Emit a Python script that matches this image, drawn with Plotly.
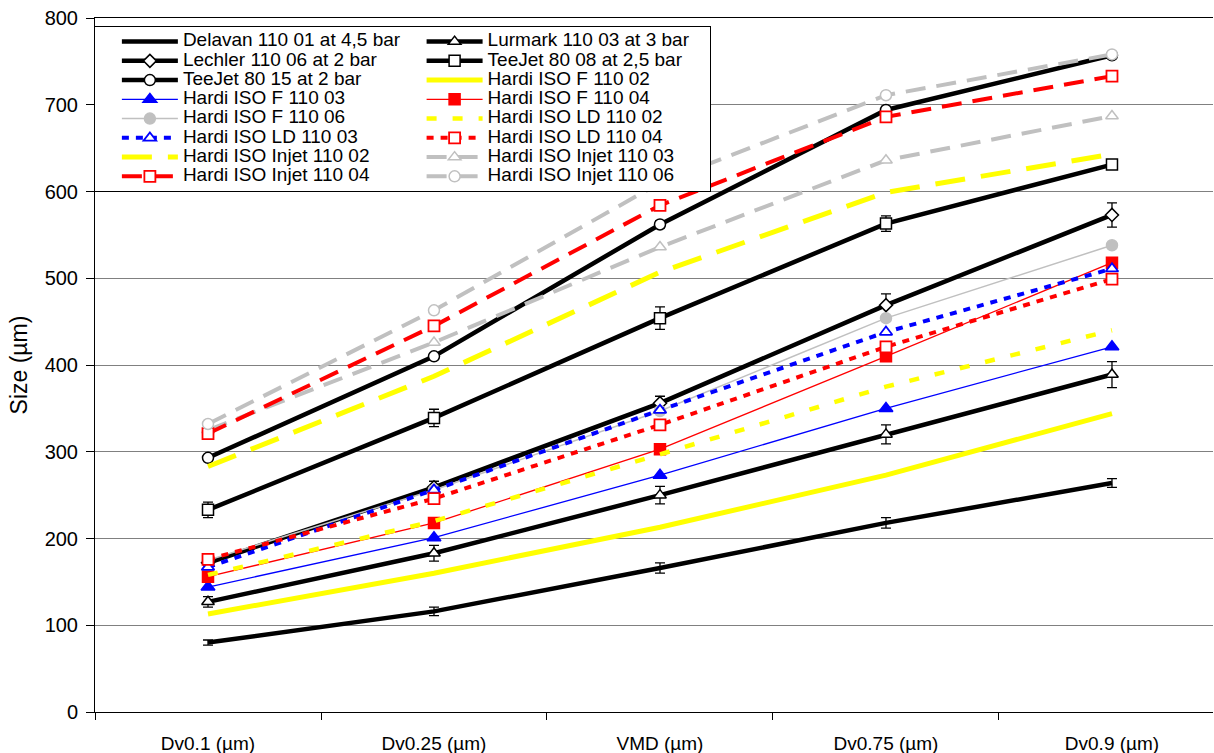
import plotly.graph_objects as go

categories = ['Dv0.1 (µm)', 'Dv0.25 (µm)', 'VMD (µm)', 'Dv0.75 (µm)', 'Dv0.9 (µm)']

delavan_11001 = [80, 116, 166, 218, 264]
delavan_11001_err = [3, 5, 6, 6, 5]
lurmark_11003 = [127, 183, 250, 320, 389]
lurmark_11003_err = [6, 9, 10, 11, 15]
lechler_11006 = [172, 259, 356, 469, 573]
lechler_11006_err = [5, 7, 8, 13, 14]
teejet_8008 = [233, 339, 454, 563, 631]
teejet_8008_err = [9, 10, 13, 9, 3]
teejet_8015 = [293, 410, 562, 694, 757]
teejet_8015_err = [3, 3, 4, 4, 3]

hardi_f_11002 = [113, 160, 213, 273, 344]
hardi_f_11003 = [144, 201, 273, 350, 421]
hardi_f_11004 = [156, 218, 303, 410, 518]
hardi_f_11006 = [175, 256, 347, 454, 538]
hardi_ld_11002 = [158, 220, 297, 375, 440]
hardi_ld_11003 = [167, 256, 348, 438, 511]
hardi_ld_11004 = [176, 246, 331, 421, 499]
hardi_injet_11002 = [283, 387, 507, 599, 643]
hardi_injet_11003 = [325, 426, 536, 636, 687]
hardi_injet_11004 = [321, 445, 584, 686, 733]
hardi_injet_11006 = [332, 463, 610, 711, 758]

FONT = "Arial, 'Liberation Sans', sans-serif"
GREY = '#C0C0C0'
YELLOW = '#FFFF00'


def lbl(t):
    return '<span style="font-size:19px">' + t + '</span>'


fig = go.Figure()


def add(name, y, color, width, dash='solid', symbol=None, size=10, fill=None,
        err=None, mline=1.5):
    mode = 'lines+markers' if symbol else 'lines'
    marker = None
    if symbol:
        marker = dict(symbol=symbol, size=size,
                      color=fill if fill else color,
                      line=dict(color=color, width=mline))
    kw = {}
    if err is not None:
        kw['error_y'] = dict(type='data', array=err, visible=True,
                             color='black', thickness=1.3, width=5)
    fig.add_trace(go.Scatter(x=categories, y=y, name=lbl(name), mode=mode,
                             line=dict(color=color, width=width, dash=dash),
                             marker=marker, **kw))


add('Delavan 110 01 at 4,5 bar', delavan_11001, 'black', 4.5, err=delavan_11001_err)
add('Lurmark 110 03 at 3 bar', lurmark_11003, 'black', 4.5, symbol='triangle-up',
    size=11, fill='white', err=lurmark_11003_err)
add('Lechler 110 06 at 2 bar', lechler_11006, 'black', 4.5, symbol='diamond',
    size=10, fill='white', err=lechler_11006_err)
add('TeeJet 80 08 at 2,5 bar', teejet_8008, 'black', 4.5, symbol='square',
    size=11, fill='white', err=teejet_8008_err)
add('TeeJet 80 15 at 2 bar', teejet_8015, 'black', 4.5, symbol='circle',
    size=11, fill='white', err=teejet_8015_err)
add('Hardi ISO F 110 02', hardi_f_11002, YELLOW, 5)
add('Hardi ISO F 110 03', hardi_f_11003, '#0000FF', 1.3, symbol='triangle-up', size=12)
add('Hardi ISO F 110 04', hardi_f_11004, '#FF0000', 1.3, symbol='square', size=11)
add('Hardi ISO F 110 06', hardi_f_11006, GREY, 1.5, symbol='circle', size=11)
add('Hardi ISO LD 110 02', hardi_ld_11002, YELLOW, 4.5, dash='10px,16px')
add('Hardi ISO LD 110 03', hardi_ld_11003, '#0000FF', 4, dash='7px,7px',
    symbol='triangle-up', size=11, fill='white', mline=1.8)
add('Hardi ISO LD 110 04', hardi_ld_11004, '#FF0000', 4, dash='7px,7px',
    symbol='square', size=11, fill='white', mline=1.8)
add('Hardi ISO Injet 110 02', hardi_injet_11002, YELLOW, 5, dash='30px,16px')
add('Hardi ISO Injet 110 03', hardi_injet_11003, GREY, 4, dash='20px,11px',
    symbol='triangle-up', size=11, fill='white', mline=1.5)
add('Hardi ISO Injet 110 04', hardi_injet_11004, '#FF0000', 4, dash='20px,11px',
    symbol='square', size=11, fill='white', mline=1.8)
add('Hardi ISO Injet 110 06', hardi_injet_11006, GREY, 4, dash='20px,11px',
    symbol='circle', size=11, fill='white', mline=1.5)

fig.update_layout(
    width=1214, height=753,
    margin=dict(l=95, r=1, t=18, b=41, autoexpand=False),
    paper_bgcolor='white', plot_bgcolor='white',
    font=dict(family=FONT, size=19, color='black'),
    showlegend=True,
    legend=dict(
        x=-0.001, xanchor='left', y=0.9885, yanchor='top',
        orientation='h', entrywidthmode='fraction', entrywidth=0.502,
        itemwidth=56, indentation=22,
        font=dict(family=FONT, size=12.5, color='black'),
        bgcolor='white', bordercolor='black', borderwidth=1,
        traceorder='normal',
    ),
    xaxis=dict(
        type='category', range=[-0.5, 4.447], tickson='boundaries',
        ticks='outside', ticklen=7, tickcolor='black', tickwidth=1,
        showline=True, linecolor='black', linewidth=1, mirror=True,
        showgrid=False, zeroline=False, ticklabelstandoff=14,
        tickfont=dict(family=FONT, size=19, color='black'),
    ),
    yaxis=dict(
        range=[0, 800], dtick=100, tick0=0,
        ticks='outside', ticklen=8, tickcolor='black', tickwidth=1,
        showline=True, linecolor='black', linewidth=1,
        showgrid=True, gridcolor='#808080', gridwidth=1, zeroline=False,
        ticklabelstandoff=4,
        tickfont=dict(family=FONT, size=20, color='black'),
        title=dict(text='Size (µm)', font=dict(family=FONT, size=23, color='black'),
                   standoff=10),
    ),
)

fig.write_html('out.html')
